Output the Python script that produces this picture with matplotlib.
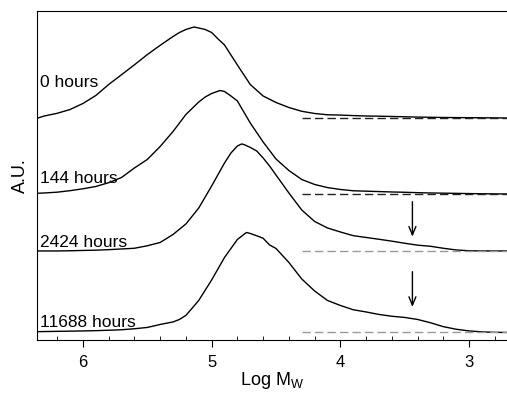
import numpy as np
import matplotlib.pyplot as plt
from matplotlib.ticker import MultipleLocator

plt.rcParams['font.family'] = ['Liberation Sans', 'DejaVu Sans']

# common log Mw grid (read every 0.1)
grid = [6.35, 6.3, 6.2, 6.1, 6.0, 5.9, 5.8, 5.7, 5.6, 5.5, 5.4, 5.3, 5.2, 5.1,
        5.0, 4.9, 4.8, 4.7, 4.6, 4.5, 4.4, 4.3, 4.2, 4.1, 4.0, 3.9, 3.8, 3.7,
        3.6, 3.5, 3.4, 3.3, 3.2, 3.1, 3.0, 2.9, 2.8, 2.7]

labels = ['0 hours', '144 hours', '2424 hours', '11688 hours']

h_0 = [0.0, 0.02, 0.047, 0.085, 0.145, 0.225, 0.335, 0.433, 0.532, 0.634,
       0.727, 0.815, 0.885, 0.90, 0.855, 0.73, 0.53, 0.335, 0.22, 0.155,
       0.105, 0.067, 0.045, 0.032, 0.029, 0.024, 0.02, 0.018, 0.015, 0.012,
       0.009, 0.007, 0.005, 0.004, 0.003, 0.002, 0.001, 0.0]
h_144 = [0.007, 0.01, 0.018, 0.033, 0.052, 0.075, 0.113, 0.165, 0.26, 0.345,
         0.475, 0.625, 0.795, 0.92, 1.005, 1.025, 0.93, 0.71, 0.52, 0.35,
         0.235, 0.145, 0.095, 0.064, 0.045, 0.032, 0.028, 0.024, 0.02, 0.017,
         0.013, 0.01, 0.008, 0.006, 0.004, 0.002, 0.001, 0.0]
h_2424 = [0.0, 0.0, 0.0, 0.002, 0.005, 0.008, 0.013, 0.02, 0.027, 0.052,
          0.085, 0.165, 0.27, 0.43, 0.65, 0.88, 1.05, 1.036, 0.93, 0.76,
          0.58, 0.41, 0.295, 0.23, 0.19, 0.153, 0.135, 0.117, 0.098, 0.077,
          0.058, 0.047, 0.027, 0.01, 0.002, 0.0, 0.0, 0.0]
h_11688 = [0.008, 0.009, 0.011, 0.013, 0.015, 0.018, 0.022, 0.027, 0.037, 0.05,
           0.08, 0.105, 0.171, 0.321, 0.525, 0.75, 0.93, 0.99, 0.942, 0.84,
           0.70, 0.535, 0.415, 0.32, 0.27, 0.227, 0.205, 0.18, 0.162, 0.15,
           0.13, 0.097, 0.058, 0.032, 0.015, 0.006, 0.001, 0.0]
heights = [h_0, h_144, h_2424, h_11688]

# extra readings around each peak
extra_x = [[5.25, 5.137, 5.05, 4.95],
           [5.05, 4.935, 4.85, 4.75],
           [4.85, 4.767, 4.75, 4.65, 4.55],
           [5.25, 5.15, 4.85, 4.75, 4.729, 4.65, 4.55]]
extra_h = [[0.855, 0.91, 0.885, 0.79],
           [0.97, 1.035, 0.98, 0.82],
           [0.98, 1.07, 1.065, 1.0, 0.85],
           [0.13, 0.245, 0.84, 0.98, 1.0, 0.967, 0.875]]

offsets = [2.22, 1.46, 0.89, 0.075]
label_dy = [0.313, 0.107, 0.043, 0.058]
dash_colors = ['#222222', '#222222', '#999999', '#999999']

# arrows marking the low-Mw shoulder
arrow_x = 3.44
arrow_from = [1.383, 0.683]
arrow_to = [1.033, 0.33]

fig = plt.figure(figsize=(5.07, 3.93), dpi=100)
ax = fig.add_axes([0.073, 0.135, 0.927, 0.837])

for i in range(4):
    x = np.array(grid + extra_x[i])
    y = np.array(heights[i] + extra_h[i])
    order = np.argsort(-x)
    ax.plot(x[order], y[order] + offsets[i], color='black', lw=1.0,
            solid_joinstyle='round')
    ax.plot([4.3, 2.6], [offsets[i], offsets[i]], color=dash_colors[i],
            lw=1.0, dashes=(6, 3))
    ax.text(6.33, offsets[i] + label_dy[i], labels[i], fontsize=12.5,
            ha='left', va='baseline')

for a, b in zip(arrow_from, arrow_to):
    ax.annotate('', xy=(arrow_x, b), xytext=(arrow_x, a),
                arrowprops=dict(arrowstyle='->, head_length=0.6, head_width=0.25',
                                color='black', lw=1.0, shrinkA=0, shrinkB=0))

ax.set_xlim(6.357, 2.705)
ax.set_ylim(0, 3.29)
ax.spines['right'].set_visible(False)
ax.set_yticks([])
ax.xaxis.set_major_locator(MultipleLocator(1))
ax.xaxis.set_minor_locator(MultipleLocator(0.2))
ax.tick_params(axis='x', which='major', direction='out', length=5, labelsize=12, pad=6)
ax.tick_params(axis='x', which='minor', direction='in', length=3)
ax.set_xlabel('Log M$_\\mathregular{W}$', fontsize=13, labelpad=0)
ax.set_ylabel('A.U.', fontsize=13, labelpad=6)

plt.savefig('out.png', dpi=100)
